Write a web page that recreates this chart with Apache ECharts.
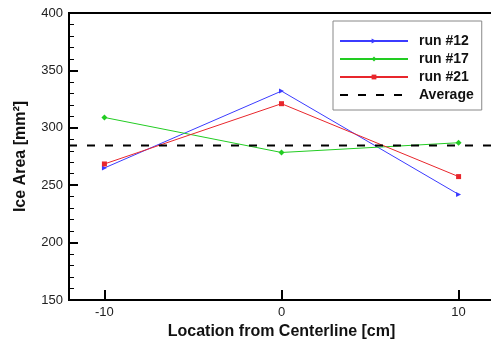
<!DOCTYPE html>
<html><head><meta charset="utf-8">
<script src="https://cdn.jsdelivr.net/npm/echarts@6/dist/echarts.min.js"></script>
<style>html,body{margin:0;padding:0;background:#fff}#c{width:491px;height:339px}</style>
</head><body><div id="c"></div>
<script>
var xCats = [-10, 0, 10];
var xTicks = [-10, 0, 10];
var run12 = [265, 332, 242];
var run17 = [309, 278.5, 287];
var run21 = [268.5, 321, 257.5];
var avgValue = 284.5;
var xRange = [-12, 12];
var yRange = [150, 400];

function pairs(v){ return xCats.map(function(x,i){ return [x, v[i]]; }); }
var font = 'Liberation Sans, Arial, sans-serif';
var chart = echarts.init(document.getElementById('c'));
chart.setOption({
  animation: false,
  grid: {left: 69, right: -3, top: 13, bottom: 39, show: true, borderColor: '#000', borderWidth: 2,
         outerBoundsMode: 'none', containLabel: false},
  legend: {
    orient: 'vertical', left: 333, top: 21,
    width: 150,
    backgroundColor: '#fff', borderColor: '#888', borderWidth: 1,
    padding: [12, 8, 7, 6],
    itemWidth: 68, itemHeight: 6, itemGap: 2,
    textStyle: {fontFamily: font, fontWeight: 'bold', fontSize: 14, color: '#111', padding: [0,0,0,6], lineHeight: 16},
    data: ['run #12', 'run #17', 'run #21', {name: 'Average', itemStyle: {color: 'rgba(0,0,0,0)', borderWidth: 0}}]
  },
  xAxis: {
    type: 'value', min: xRange[0], max: xRange[1],
    name: 'Location from Centerline [cm]', nameLocation: 'middle', nameGap: 22,
    nameTextStyle: {fontFamily: font, fontWeight: 'bold', fontSize: 16, color: '#111'},
    axisLine: {onZero: false, lineStyle: {color: '#000', width: 2}},
    axisTick: {inside: true, length: 10, lineStyle: {color: '#000', width: 2}, customValues: xTicks},
    axisLabel: {fontFamily: font, fontSize: 13, color: '#222', margin: 6, customValues: xTicks},
    splitLine: {show: false}
  },
  yAxis: {
    type: 'value', min: yRange[0], max: yRange[1], interval: 50,
    name: 'Ice Area [mm²]', nameLocation: 'middle', nameGap: 40,
    nameTextStyle: {fontFamily: font, fontWeight: 'bold', fontSize: 16, color: '#111'},
    axisLine: {show: true, onZero: false, lineStyle: {color: '#000', width: 2}},
    axisTick: {inside: true, length: 9, lineStyle: {color: '#000', width: 2}},
    minorTick: {show: true, splitNumber: 5, length: 5, lineStyle: {color: '#000', width: 1}},
    axisLabel: {fontFamily: font, fontSize: 13, color: '#222', margin: 6},
    splitLine: {show: false}
  },
  series: [
    {name: 'run #12', type: 'line', data: pairs(run12), color: '#3b3bff',
     symbol: 'triangle', symbolRotate: -90, symbolSize: 5, lineStyle: {width: 1}},
    {name: 'run #17', type: 'line', data: pairs(run17), color: '#22cc22',
     symbol: 'diamond', symbolSize: 6, lineStyle: {width: 1}},
    {name: 'run #21', type: 'line', data: pairs(run21), color: '#e8262c',
     symbol: 'rect', symbolSize: 5, lineStyle: {width: 1}},
    {name: 'Average', type: 'line', data: [[xRange[0], avgValue], [xRange[1], avgValue]], color: '#000',
     symbol: 'none', lineStyle: {width: 2, type: [8, 10]}}
  ]
});
</script></body></html>
